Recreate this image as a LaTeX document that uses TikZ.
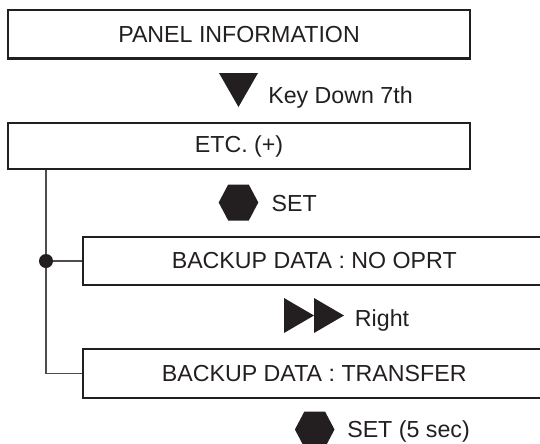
\documentclass[tikz,border=0pt]{standalone}
\usepackage{fontspec}
\setmainfont{Liberation Sans}
\definecolor{ink}{HTML}{231F20}
\tikzset{
  menubox/.style={draw=ink, line width=1.6pt, minimum width=11.55cm, text=ink,
    font=\fontsize{16.5}{19}\selectfont},
  keytext/.style={anchor=base west, inner sep=0pt, text=ink,
    font=\fontsize{16.5}{19}\selectfont},
  wire/.style={draw=ink!80, line width=0.9pt}
}
\begin{document}
\begin{tikzpicture}[x=0.025cm,y=-0.025cm]
\clip (0,0) rectangle (540,443);
%menu boxes
\node[menubox, minimum height=1.21cm] (panel) at (239,34.3) {PANEL INFORMATION};
\node[menubox, minimum height=1.15cm] (etc) at (239,146) {ETC. (+)};
\node[menubox, minimum height=1.2cm] (nooprt) at (314.25,261) {BACKUP DATA : NO OPRT};
\node[menubox, minimum height=1.22cm] (transfer) at (314.25,373.5) {BACKUP DATA : TRANSFER};
%key labels
\node[keytext] (keydown) at (268,103) {Key Down 7th};
\node[keytext] (set) at (271.3,211) {SET};
\node[keytext] (right) at (354.7,326) {Right};
\node[keytext] (setlong) at (347,437) {SET (5 sec)};
%key symbols
\fill[ink] (219,73) -- (258,73) -- (238.5,107) -- cycle;
\foreach \x in {284,314}{
    \fill[ink] (\x,298) -- (\x+30,315.5) -- (\x,333) -- cycle;
};
\foreach \Point in {(238.5,202.5),(314.7,429.5)}{
    \fill[ink] \Point ++(-10.3,-18) -- ++(20.6,0) -- ++(9.5,18) -- ++(-9.5,18)
      -- ++(-20.6,0) -- ++(-9.5,-18) -- cycle;
};
%tree lines
\coordinate (trunk) at (46,0);
\draw[wire] (trunk |- etc.south) -- (trunk |- transfer.west) -- (transfer.west);
\draw[wire] (trunk |- nooprt.west) -- (nooprt.west);
\fill[ink] (trunk |- nooprt.west) circle[radius=0.175cm];
\end{tikzpicture}
\end{document}
